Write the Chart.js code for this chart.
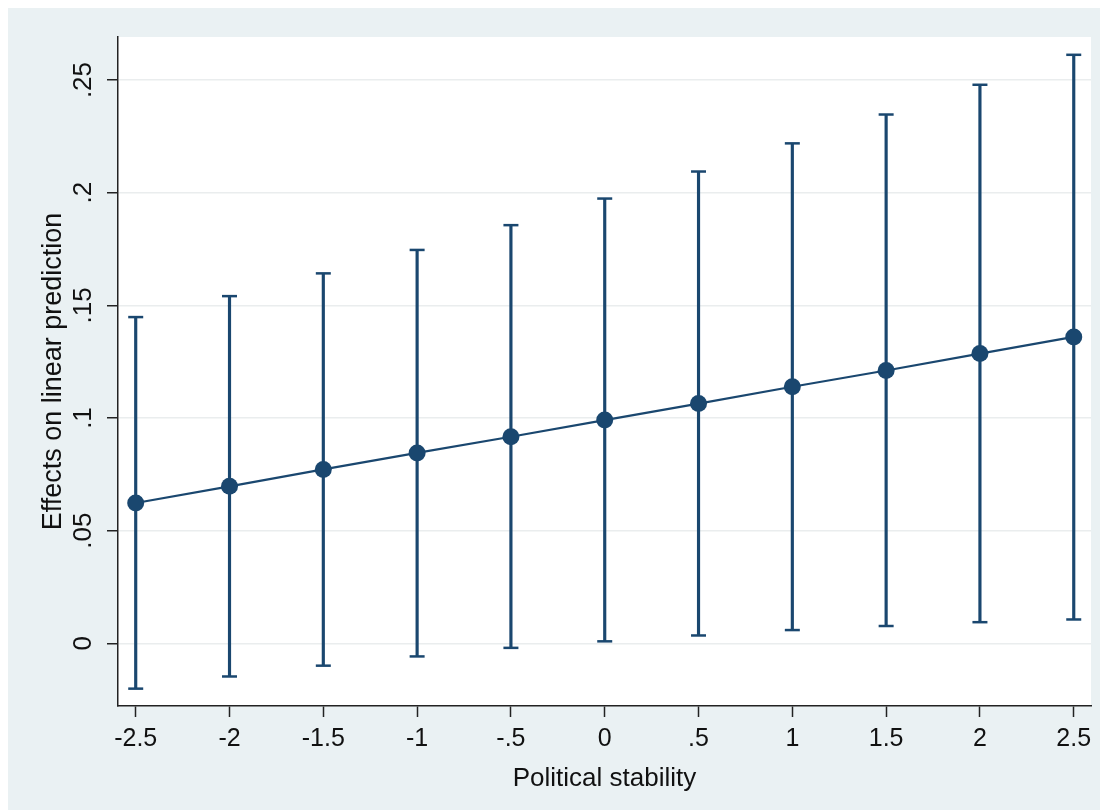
<!DOCTYPE html>
<html>
<head>
<meta charset="utf-8">
<title>Effects on linear prediction</title>
<script src="https://cdn.jsdelivr.net/npm/chart.js@4.4.1/dist/chart.umd.min.js"></script>
<style>
  html, body { margin: 0; padding: 0; background: #ffffff; }
  #wrap { width: 1109px; height: 810px; }
</style>
</head>
<body>
<div id="wrap"><canvas id="marginsChart" width="1109" height="810"></canvas></div>
<script>
// Political stability values (x) and margins with 95% CI
const stability = [-2.5, -2, -1.5, -1, -0.5, 0, 0.5, 1, 1.5, 2, 2.5];
const estimates = [0.0623, 0.0697, 0.0772, 0.0845, 0.0917, 0.0991, 0.1064, 0.1139, 0.1211, 0.1286, 0.1360];
const ciUpper = [0.1448, 0.1541, 0.1642, 0.1746, 0.1856, 0.1974, 0.2094, 0.2219, 0.2347, 0.2479, 0.2612];
const ciLower = [-0.0201, -0.0147, -0.0099, -0.0058, -0.0020, 0.0009, 0.0035, 0.0059, 0.0077, 0.0094, 0.0106];

const xTicks = [-2.5, -2, -1.5, -1, -0.5, 0, 0.5, 1, 1.5, 2, 2.5];
const xTickLabels = ['-2.5', '-2', '-1.5', '-1', '-.5', '0', '.5', '1', '1.5', '2', '2.5'];
const yTicks = [0, 0.05, 0.1, 0.15, 0.2, 0.25];
const yTickLabels = ['0', '.05', '.1', '.15', '.2', '.25'];

const navy = '#1a476f';
const fontFamily = '"Liberation Sans", Arial, Helvetica, sans-serif';

// fond gris-bleu autour, zone de tracé blanche
const backgroundPlugin = {
    id: 'stataBackground',
    beforeDraw(chart) {
        const ctx = chart.ctx;
        const a = chart.chartArea;
        ctx.save();
        ctx.fillStyle = '#ffffff';
        ctx.fillRect(0, 0, chart.width, chart.height);
        ctx.fillStyle = '#eaf1f3';
        ctx.fillRect(8, 8, 1092, chart.height - 8);
        ctx.fillStyle = '#ffffff';
        ctx.fillRect(a.left, a.top, a.right - a.left, a.bottom - a.top);
        ctx.restore();
    }
};

const ciBars = stability.map((x, i) => ({ x: x, y: [ciLower[i], ciUpper[i]] }));
const caps = stability.map((x, i) => ({ x: x, y: ciUpper[i] }))
    .concat(stability.map((x, i) => ({ x: x, y: ciLower[i] })));
const points = stability.map((x, i) => ({ x: x, y: estimates[i] }));

new Chart(document.getElementById('marginsChart'), {
    type: 'bar',
    data: {
        datasets: [
            {
                type: 'line',
                data: points,
                borderColor: navy,
                backgroundColor: navy,
                borderWidth: 2.2,
                pointRadius: 8.5,
                pointBackgroundColor: navy,
                pointBorderWidth: 0,
                tension: 0,
                order: 0
            },
            {
                type: 'scatter',
                data: caps,
                pointStyle: 'line',
                pointRadius: 7.5,
                borderColor: navy,
                pointBorderWidth: 2.5,
                order: 1
            },
            {
                type: 'bar',
                data: ciBars,
                backgroundColor: navy,
                borderWidth: 0,
                barThickness: 2.5,
                order: 2
            }
        ]
    },
    options: {
        responsive: false,
        animation: false,
        layout: { padding: { top: 37, right: 18, bottom: 0, left: 0 } },
        plugins: {
            legend: { display: false },
            tooltip: { enabled: false }
        },
        scales: {
            x: {
                type: 'linear',
                offset: false,
                min: -2.5944,
                max: 2.592,
                afterBuildTicks: (scale) => { scale.ticks = xTicks.map(v => ({ value: v })); },
                afterFit: (scale) => { scale.height = 104; },
                grid: {
                    display: true,
                    offset: false,
                    drawOnChartArea: false,
                    drawTicks: true,
                    tickLength: 11,
                    tickColor: '#222222',
                    tickWidth: 1.5
                },
                border: { display: true, color: '#222222', width: 1.5 },
                ticks: {
                    autoSkip: false,
                    maxRotation: 0,
                    padding: 7.5,
                    color: '#111111',
                    font: { family: fontFamily, size: 25 },
                    callback: (value, index) => xTickLabels[index]
                },
                title: {
                    display: true,
                    text: 'Political stability',
                    color: '#111111',
                    font: { family: fontFamily, size: 26 },
                    padding: { top: 0, bottom: 15.5 }
                }
            },
            y: {
                type: 'linear',
                min: -0.0278,
                max: 0.2691,
                afterBuildTicks: (scale) => { scale.ticks = yTicks.map(v => ({ value: v })); },
                afterFit: (scale) => { scale.width = 118; },
                grid: {
                    display: true,
                    color: '#eaedee',
                    lineWidth: 1.5,
                    drawTicks: true,
                    tickLength: 11,
                    tickColor: '#222222',
                    tickWidth: 1.5
                },
                border: { display: true, color: '#222222', width: 1.5 },
                ticks: {
                    autoSkip: false,
                    minRotation: 90,
                    maxRotation: 90,
                    crossAlign: 'center',
                    padding: 5,
                    color: '#111111',
                    font: { family: fontFamily, size: 26 },
                    callback: (value, index) => yTickLabels[index]
                },
                title: {
                    display: true,
                    text: 'Effects on linear prediction',
                    color: '#111111',
                    font: { family: fontFamily, size: 27 },
                    padding: { top: 37.5, bottom: 0 }
                }
            }
        }
    },
    plugins: [backgroundPlugin]
});
</script>
</body>
</html>
